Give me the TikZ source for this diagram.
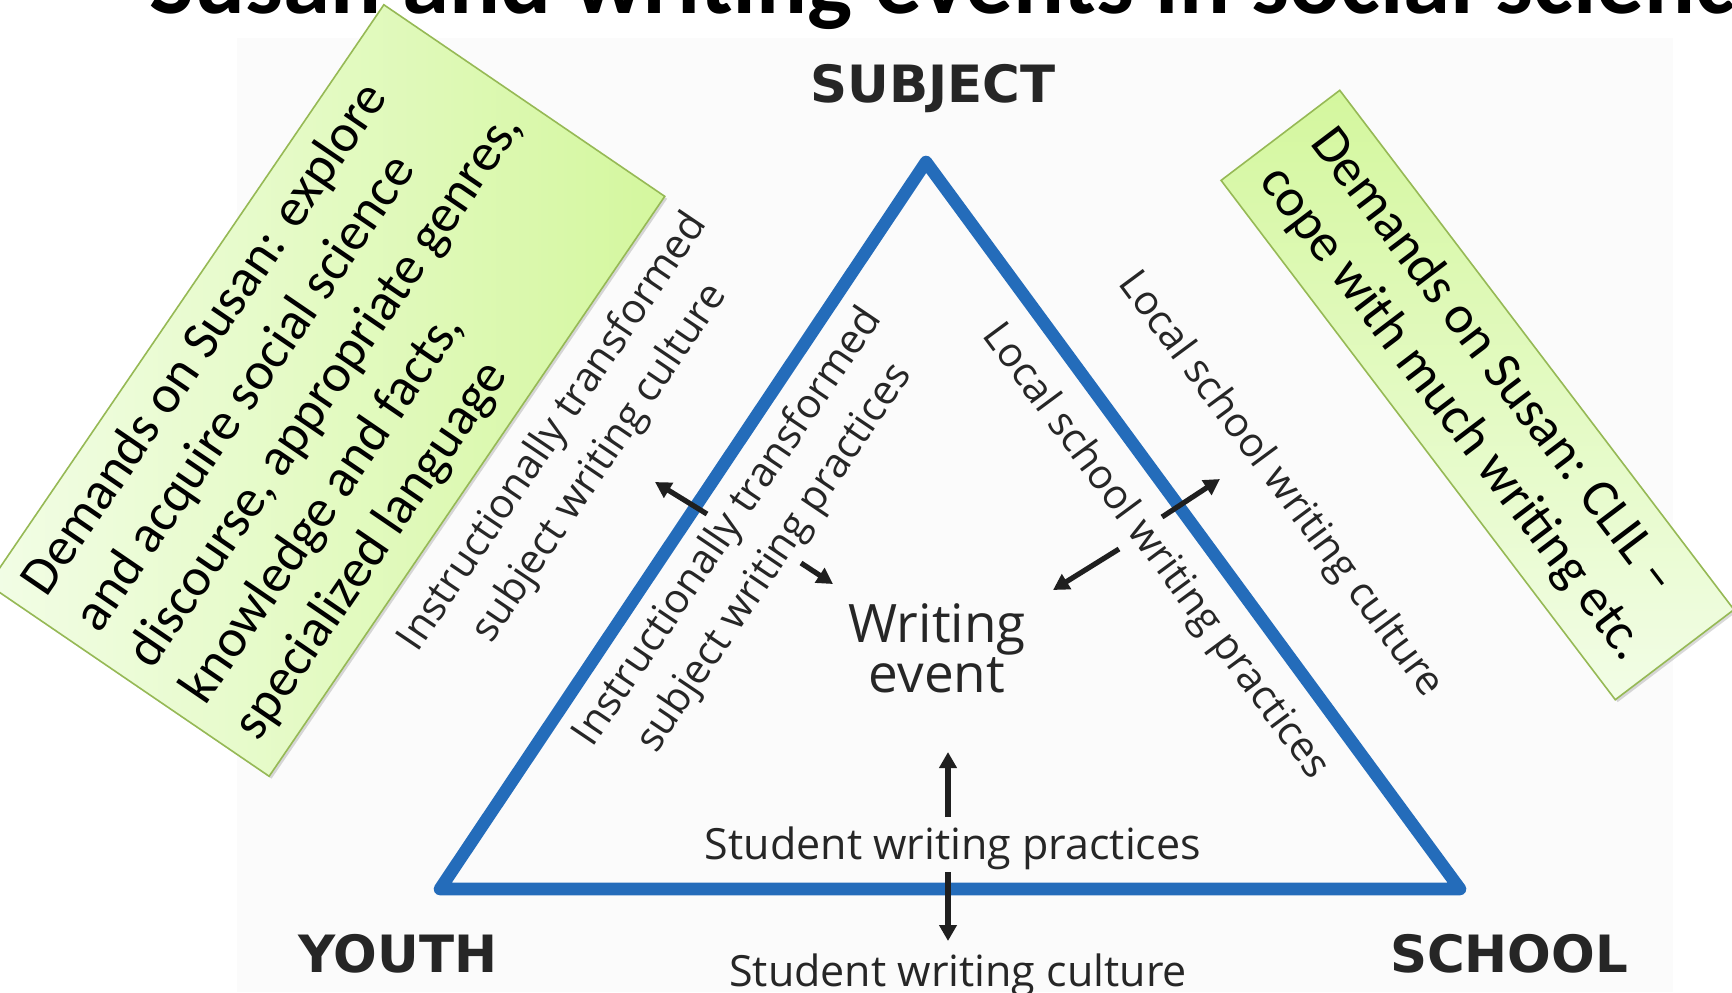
\documentclass[tikz,border=0pt]{standalone}
\usepackage{fontspec}
\setmainfont{Open Sans}
\newfontfamily\calfont{Carlito}
\newfontfamily\vertexfont{DejaVu Sans}
\usetikzlibrary{arrows.meta,shadows}

\definecolor{triblue}{RGB}{36,108,186}
\definecolor{notegreen}{RGB}{212,247,158}
\definecolor{notelight}{RGB}{242,253,230}
\definecolor{noteline}{RGB}{150,185,85}
\definecolor{labelgrey}{RGB}{38,38,38}
\definecolor{pagegrey}{RGB}{251,251,251}

\begin{document}
\begin{tikzpicture}[x=0.5pt,y=0.5pt]
\tikzstyle{every node}=[text=labelgrey, inner sep=0pt]
\tikzstyle{corner}=[font=\vertexfont\bfseries\fontsize{25.7}{30}\selectfont, anchor=base]
\tikzstyle{side}=[font=\fontsize{20.4}{28}\selectfont, align=center]
\tikzstyle{flow}=[-{Triangle[length=8pt,width=8.5pt]}, line width=2.6pt, black!88]
\tikzstyle{note}=[draw=noteline, line width=0.8pt, text=black, align=left,
  font=\calfont\fontsize{26.8}{32}\selectfont,
  drop shadow={shadow xshift=1.2pt, shadow yshift=-1.2pt, opacity=0.25, fill=black!60}]

\useasboundingbox (0,0) rectangle (1732,-992);
\clip (0,0) rectangle (1732,-992);

% slide title, cut by the top edge
\node[anchor=base west, text=black, font=\calfont\bfseries\fontsize{47.5}{50}\selectfont]
  (title) at (149,-13) {Susan and writing events in social science};

% figure area
\fill[pagegrey] (237,-38) rectangle (1673,-992);

% the triangle
\coordinate (subj) at (926,-162);
\coordinate (youth) at (440,-889);
\coordinate (school) at (1460,-889);
\draw[triblue, line width=6.3pt, line join=round] (subj) -- (youth) -- (school) -- cycle;

\node[corner] (subjlab) at (933,-102) {SUBJECT};
\node[corner] (youthlab) at (398,-972) {YOUTH};
\node[corner] (schoollab) at (1509,-972) {SCHOOL};

\node[align=center, font=\fontsize{26.5}{25}\selectfont] (event) at (937,-648) {Writing\\event};

% practices and cultures along the sides
\node[side, rotate=56] (instcult) at (577,-448) {Instructionally transformed\\subject writing culture};
\node[side, rotate=56] (instprac) at (752,-543) {Instructionally transformed\\subject writing practices};
\node[side, rotate=-53.5] (loccult) at (1280,-485) {Local school writing culture};
\node[side, rotate=-53.5] (locprac) at (1155,-552) {Local school writing practices};
\node[side, anchor=base, font=\fontsize{21.5}{26}\selectfont] (studprac) at (953,-859) {Student writing practices};
\node[side, anchor=base, font=\fontsize{21.5}{26}\selectfont] (studcult) at (958,-986) {Student writing culture};

% arrows
\coordinate (l1) at (707,-514); \coordinate (l1h) at (655,-482);
\coordinate (l2) at (801,-563); \coordinate (l2h) at (833,-584);
\coordinate (r1) at (1162,-517); \coordinate (r1h) at (1220,-479);
\coordinate (r2) at (1119,-549); \coordinate (r2h) at (1053,-590);
\coordinate (b1) at (948,-817); \coordinate (b1h) at (948,-752);
\coordinate (b2) at (948,-872); \coordinate (b2h) at (948,-941);
\draw[flow] (l1) -- (l1h);
\draw[flow] (l2) -- (l2h);
\draw[flow] (r1) -- (r1h);
\draw[flow] (r2) -- (r2h);
\draw[flow] (b1) -- (b1h);
\draw[flow] (b2) -- (b2h);

% the two call-outs
\node[note, rotate=55.7, minimum width=351pt, minimum height=170pt,
  left color=notelight, right color=notegreen] (demsubj) at (326.5,-390.5)
  {Demands on Susan: explore\\and acquire social science\\discourse, appropriate genres,\\knowledge and facts,\\specialized language};
\node[note, rotate=-52.8, minimum width=326pt, minimum height=74.5pt,
  top color=notegreen, bottom color=notelight] (demschool) at (1477.5,-395)
  {Demands on Susan: CLIL –\\cope with much writing etc.};
\end{tikzpicture}
\end{document}
